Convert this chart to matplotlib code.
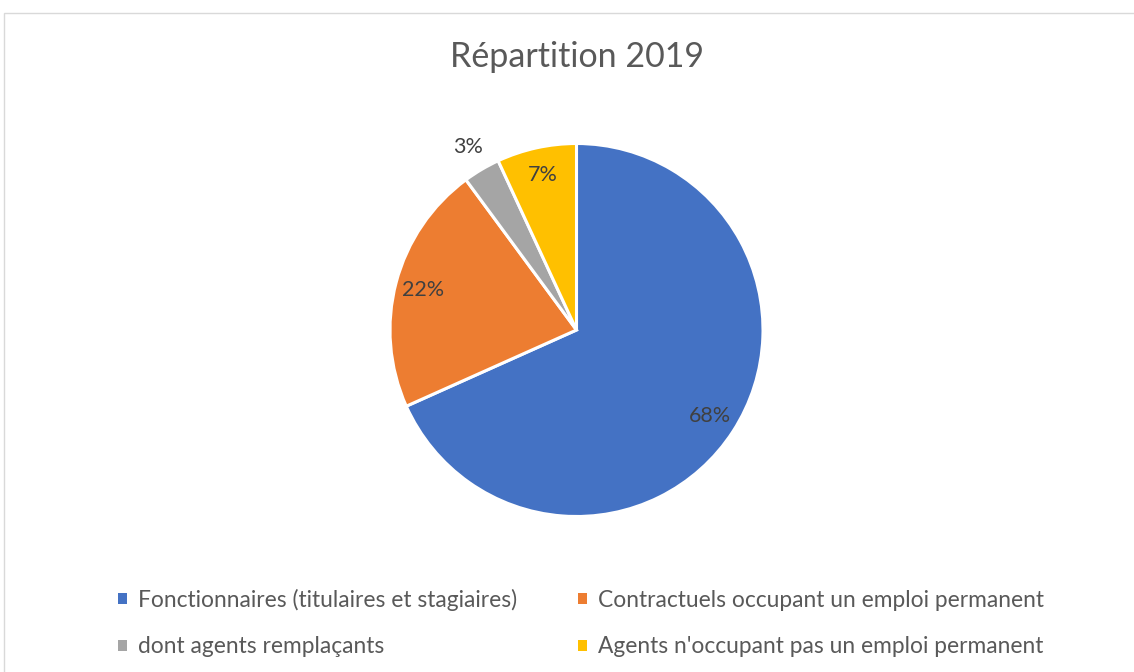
import matplotlib
matplotlib.use("Agg")
import matplotlib.pyplot as plt
from matplotlib.patches import Rectangle
import numpy as np

title = "Répartition 2019"
categories = [
    "Fonctionnaires (titulaires et stagiaires)",
    "Contractuels occupant un emploi permanent",
    "dont agents remplaçants",
    "Agents n'occupant pas un emploi permanent",
]
values = [68.3, 21.6, 3.2, 6.9]
colors = ["#4472C4", "#ED7D31", "#A5A5A5", "#FFC000"]

plt.rcParams['font.family'] = ['Lato', 'DejaVu Sans']

W, H = 1134, 672
fig = plt.figure(figsize=(W / 100, H / 100), dpi=100)
fig.patch.set_facecolor("white")

# chart frame
fig.patches.append(Rectangle((3.5 / W, -0.1), 1.2, (H - 12.5) / H + 0.1,
                             transform=fig.transFigure, fill=False,
                             edgecolor="#D9D9D9", linewidth=1.0))

cx, cy, r = 576.5, 330, 186.5
ax = fig.add_axes([(cx - r) / W, (H - cy - r) / H, 2 * r / W, 2 * r / H])
wedges, texts, autotexts = ax.pie(
    values, colors=colors, startangle=90, counterclock=False,
    autopct="%.0f%%", pctdistance=0.85, radius=1,
    wedgeprops=dict(edgecolor="white", linewidth=2.2),
    textprops=dict(color="#404040", fontsize=15.5))
ax.set_xlim(-1, 1)
ax.set_ylim(-1, 1)
ax.set_aspect("equal")
ax.axis("off")

# move the small slice label outside
w = wedges[2]
ang = np.deg2rad((w.theta1 + w.theta2) / 2)
autotexts[2].set_position((1.14 * np.cos(ang), 1.14 * np.sin(ang)))

fig.text(cx / W, 1 - 57 / H, title, ha="center", va="center",
         fontsize=24.5, color="#595959")

order = [0, 2, 1, 3]  # row-wise fill in two columns
leg = fig.legend([wedges[i] for i in order], [categories[i] for i in order],
                 loc="center", ncol=2,
                 bbox_to_anchor=(581 / W, 1 - 623 / H), frameon=False,
                 fontsize=16.4, labelcolor="#595959",
                 handlelength=0.4, handleheight=0.4, handletextpad=0.45,
                 columnspacing=2.7, labelspacing=1.13)
for h in leg.legend_handles:
    h.set_edgecolor("none")

fig.savefig("out.png", dpi=100)
